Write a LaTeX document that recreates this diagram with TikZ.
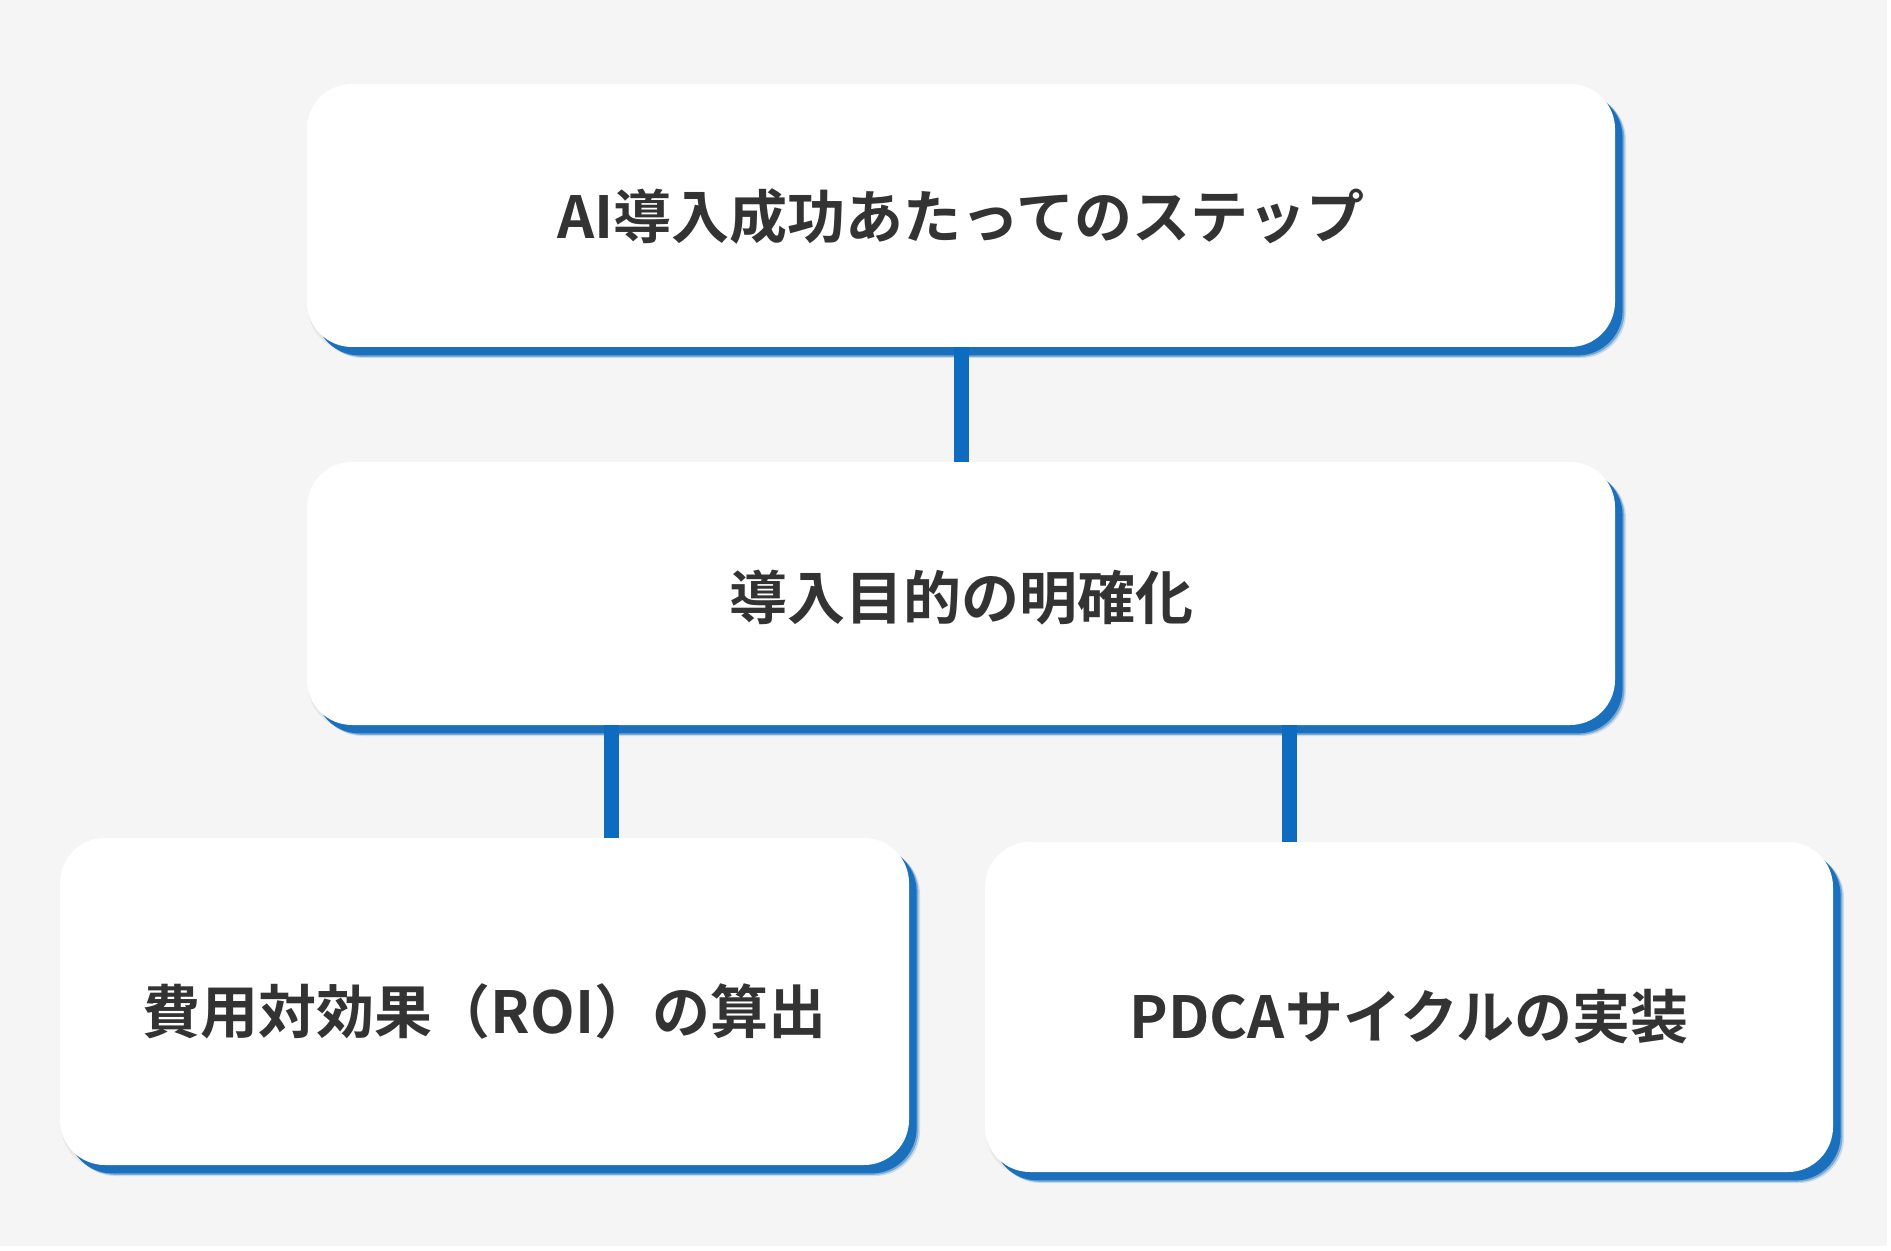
\documentclass[tikz,border=0pt]{standalone}
\usepackage{fontspec}
\newfontfamily\jp{Noto Sans CJK JP}[BoldFont={* Bold}]
\usetikzlibrary{shadows}
\definecolor{bg}{HTML}{F5F5F5}
\definecolor{sblue}{HTML}{1A70BC}
\definecolor{cblue}{HTML}{0D6CC0}
\definecolor{txt}{HTML}{333333}
\begin{document}
\begin{tikzpicture}[x=0.5pt,y=-0.5pt,
  box/.style={rounded corners=22.5pt, fill=white, inner sep=0pt,
    general shadow={fill=black, opacity=0.05, shadow xshift=0.5pt, shadow yshift=-2.5pt},
    general shadow={fill=sblue, opacity=0.2, shadow xshift=5.5pt, shadow yshift=-5.5pt},
    general shadow={fill=sblue, opacity=0.45, shadow xshift=4.7pt, shadow yshift=-4.9pt},
    general shadow={fill=sblue, shadow xshift=3.8pt, shadow yshift=-4.2pt}},
  lbl/.style={inner sep=0pt, text=txt, font=\jp\bfseries\fontsize{29}{35}\selectfont},
  conn/.style={draw=cblue, line width=7.5pt}]
\fill[white] (0,0) rectangle (1891,1251);
\fill[bg] (0,0) rectangle (1887,1246);
\useasboundingbox (0,0) rectangle (1891,1251);
\node[box, minimum width=654pt, minimum height=131.5pt] (top) at (961,215.5) {};
\node[box, minimum width=654pt, minimum height=131.5pt] (mid) at (961,593.5) {};
\node[box, minimum width=424.5pt, minimum height=163.5pt] (bl) at (484.5,1001.5) {};
\node[box, minimum width=424pt, minimum height=165pt] (br) at (1409,1007) {};
\node[lbl] (toptext) at ([yshift=-0.5pt]top.center) {AI導入成功あたってのステップ};
\node[lbl] (midtext) at ([yshift=-2pt]mid.center) {導入目的の明確化};
\node[lbl] (bltext) at ([yshift=-5pt]bl.center) {費用対効果（ROI）の算出};
\node[lbl] (brtext) at ([yshift=-5pt]br.center) {PDCAサイクルの実装};
\coordinate (c1) at (611,0);
\coordinate (c2) at (1289,0);
\draw[conn] (top.south) -- (mid.north);
\draw[conn] (mid.south -| c1) -- (bl.north -| c1);
\draw[conn] (mid.south -| c2) -- (br.north -| c2);
\end{tikzpicture}
\end{document}
